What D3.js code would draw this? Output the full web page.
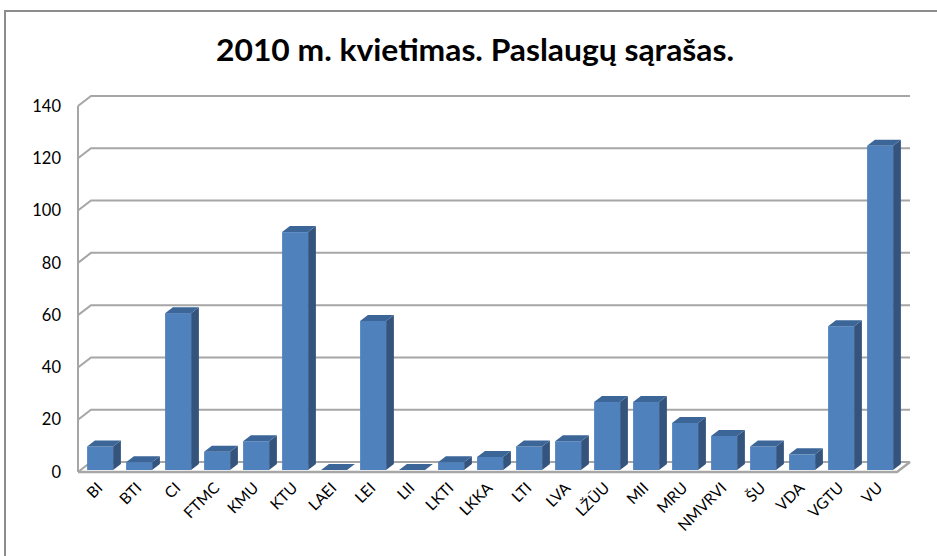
<!DOCTYPE html>
<html>
<head>
<meta charset="utf-8">
<script src="https://cdn.jsdelivr.net/npm/d3@7"></script>
<style>
  body { margin: 0; background: #fff; }
  svg { display: block; }
</style>
</head>
<body>
<svg id="chart"></svg>
<script>
// data
var categories = ["BI","BTI","CI","FTMC","KMU","KTU","LAEI","LEI","LII","LKTI","LKKA","LTI","LVA","LŽŪU","MII","MRU","NMVRVI","ŠU","VDA","VGTU","VU"];
var values = [9,3,60,7,11,91,0,57,0,3,5,9,11,26,26,18,13,9,6,55,124];
var yTicks = [0,20,40,60,80,100,120,140];
var title = "2010 m. kvietimas. Paslaugų sąrašas.";

var width = 937, height = 556;

// front plane of the plot + depth offset of the 3d box
var margin = {top: 106, right: 40, bottom: 84, left: 78};
var depth = {dx: 13, dy: -10};

var svg = d3.select('#chart')
    .attr('width', width)
    .attr('height', height);

// outer chart border
svg.append('rect')
    .attr('x', 5).attr('y', 11)
    .attr('width', width + 10).attr('height', height + 10)
    .attr('fill', 'none')
    .attr('stroke', '#8c8c8c')
    .attr('stroke-width', 2);

svg.append('text')
    .attr('x', 475).attr('y', 61)
    .attr('text-anchor', 'middle')
    .attr('textLength', 518)
    .attr('lengthAdjust', 'spacingAndGlyphs')
    .style('font-family', 'Lato, "Open Sans", sans-serif')
    .style('font-weight', 'bold')
    .style('font-size', '31px')
    .style('fill', '#000')
    .text(title);

// scales
var xScale = d3.scaleBand()
    .domain(categories)
    .range([margin.left, width - margin.right])
    .paddingInner(1/3)
    .paddingOuter(1/6);

var yScale = d3.scaleLinear()
    .domain([0, 140])
    .range([height - margin.bottom, margin.top]);

var x0 = margin.left, x1 = width - margin.right;
var grid = '#a6a6a6';

// back wall gridlines (with the little diagonal on the side wall)
yTicks.forEach(function(t){
    var y = yScale(t);
    svg.append('path')
        .attr('d', 'M' + x0 + ',' + y + 'L' + (x0 + depth.dx) + ',' + (y + depth.dy) + 'L' + (x1 + depth.dx) + ',' + (y + depth.dy))
        .attr('fill', 'none')
        .attr('stroke', grid)
        .attr('stroke-width', 2);
});

// floor front edge + right diagonal
var y0 = yScale(0);
svg.append('path')
    .attr('d', 'M' + x0 + ',' + y0 + 'L' + x1 + ',' + y0 + 'L' + (x1 + depth.dx) + ',' + (y0 + depth.dy))
    .attr('fill', 'none')
    .attr('stroke', grid)
    .attr('stroke-width', 2.5);

// value axis line
svg.append('line')
    .attr('x1', x0).attr('x2', x0)
    .attr('y1', yScale(140)).attr('y2', y0)
    .attr('stroke', grid)
    .attr('stroke-width', 2);

// y tick labels
yTicks.forEach(function(t){
    svg.append('text')
        .attr('x', 61)
        .attr('y', yScale(t))
        .attr('dy', '0.35em')
        .attr('text-anchor', 'end')
        .style('font-family', 'Lato, "Open Sans", sans-serif')
        .style('font-size', '16.5px')
        .style('fill', '#000')
        .text(t);
});

// bars, sitting from 0.2 to 0.8 of the depth
var f0 = 0.2, f1 = 0.8;
var ox = depth.dx * f0, oy = depth.dy * f0;
var bx = depth.dx * (f1 - f0), by = depth.dy * (f1 - f0);
var bw = xScale.bandwidth();

categories.forEach(function(c, i){
    var v = values[i];
    var xl = xScale(c) + ox;
    var xr = xl + bw;
    var yt = yScale(v) + oy;
    var yb = y0 + oy;

    // side
    svg.append('path')
        .attr('d', 'M' + xr + ',' + yb + 'L' + (xr + bx) + ',' + (yb + by) + 'L' + (xr + bx) + ',' + (yt + by) + 'L' + xr + ',' + yt + 'Z')
        .attr('fill', '#34547e');
    // front
    if (yb - yt > 0){
        svg.append('rect')
            .attr('x', xl).attr('y', yt)
            .attr('width', bw).attr('height', yb - yt)
            .attr('fill', '#4f81bd');
    }
    // top
    svg.append('path')
        .attr('d', 'M' + xl + ',' + yt + 'L' + xr + ',' + yt + 'L' + (xr + bx) + ',' + (yt + by) + 'L' + (xl + bx) + ',' + (yt + by) + 'Z')
        .attr('fill', '#3d6698');

    // category label
    var cx = xScale(c) + bw / 2 + 6;
    svg.append('text')
        .attr('transform', 'translate(' + cx + ',' + 489 + ') rotate(-45)')
        .attr('text-anchor', 'end')
        .style('font-family', 'Lato, "Open Sans", sans-serif')
        .style('font-size', '15.5px')
        .style('fill', '#000')
        .text(c);
});
</script>
</body>
</html>
